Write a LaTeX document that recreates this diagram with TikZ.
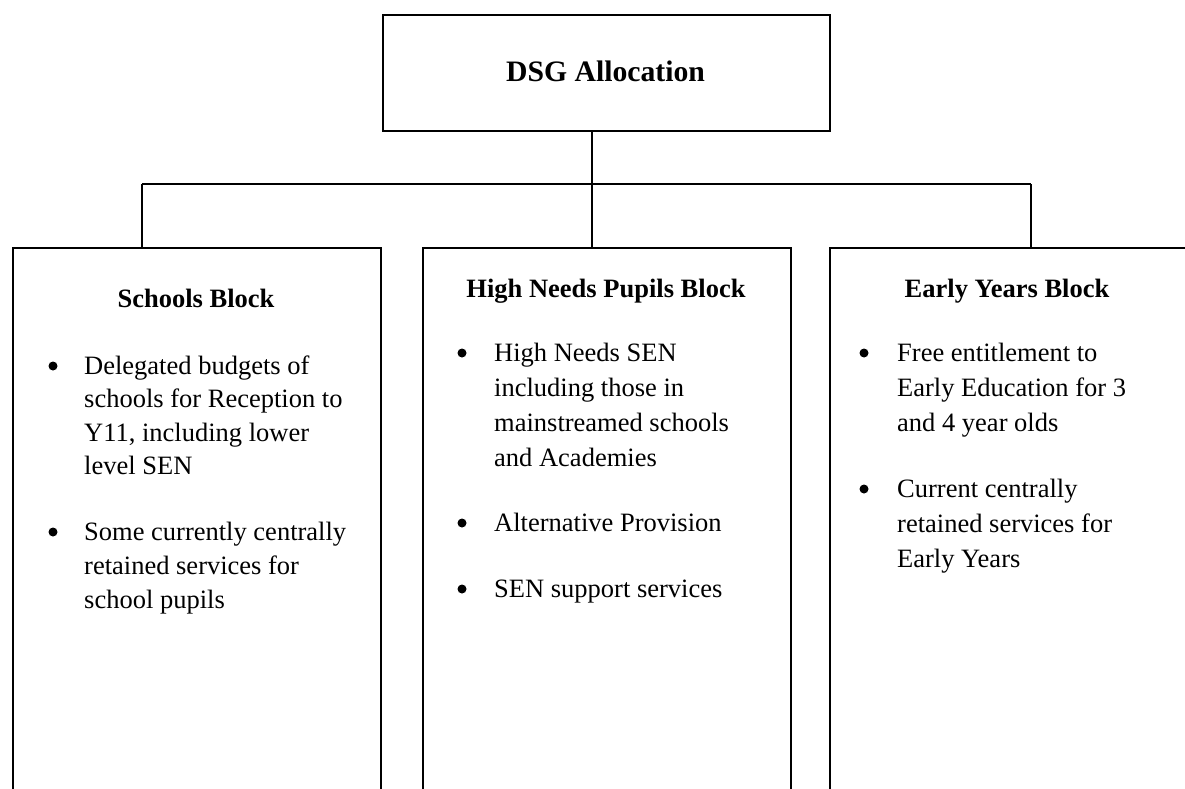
\documentclass[tikz,border=0pt]{standalone}
\usepackage{fontspec}
\setmainfont{Liberation Serif}
\begin{document}
\begin{tikzpicture}[x=1pt,y=-1pt,
  blk/.style={draw=black,line width=1.6pt,inner sep=0pt,anchor=north west},
  conn/.style={draw=black,line width=1.6pt},
  ttl/.style={anchor=base,inner sep=0pt,font=\fontsize{29.7}{34}\selectfont\bfseries},
  hdr/.style={anchor=base,inner sep=0pt,font=\fontsize{26.5}{34}\selectfont\bfseries},
  txt/.style={anchor=base west,inner sep=0pt,font=\fontsize{26.5}{34}\selectfont},
  bul/.style={circle,fill=black,inner sep=0pt,minimum size=9pt,yshift=8pt}]
\useasboundingbox (0,0) rectangle (1185,789);
\clip (0,0) rectangle (1185,789);
\fill[white] (0,0) rectangle (1185,789);
% boxes
\node[blk,minimum width=447pt,minimum height=116pt] (top) at (382,14) {};
\node[blk,minimum width=368pt,minimum height=600pt] (sb) at (12,247) {};
\node[blk,minimum width=368pt,minimum height=600pt] (hb) at (422,247) {};
\node[blk,minimum width=380pt,minimum height=600pt] (eb) at (829,247) {};
% connectors
\coordinate (jL) at (142,184);
\coordinate (jC) at (592,184);
\coordinate (jR) at (1031,184);
\draw[conn] (jC |- top.south) -- (jC |- hb.north);
\draw[conn] (jL) -- (jR);
\draw[conn] (jL) -- (jL |- sb.north);
\draw[conn] (jR) -- (jR |- eb.north);
% title
\node[ttl] (t0) at (605.5,82) {DSG Allocation};
% Schools block
\node[hdr] (sh) at (196,307) {Schools Block};
\node[bul] (sb1) at (53,374) {};
\node[txt] (s1) at (84,374) {Delegated budgets of};
\node[txt] (s2) at (84,407.5) {schools for Reception to};
\node[txt] (s3) at (84,441) {Y11, including lower};
\node[txt] (s4) at (84,474.5) {level SEN};
\node[bul] (sb2) at (53,540) {};
\node[txt] (s5) at (84,540) {Some currently centrally};
\node[txt] (s6) at (84,574) {retained services for};
\node[txt] (s7) at (84,608) {school pupils};
% High needs block
\node[hdr] (hh) at (606,297) {High Needs Pupils Block};
\node[bul] (hb1) at (462,361) {};
\node[txt] (h1) at (494,361) {High Needs SEN};
\node[txt] (h2) at (494,396) {including those in};
\node[txt] (h3) at (494,431) {mainstreamed schools};
\node[txt] (h4) at (494,466) {and Academies};
\node[bul] (hb2) at (462,531) {};
\node[txt] (h5) at (494,531) {Alternative Provision};
\node[bul] (hb3) at (462,597) {};
\node[txt] (h6) at (494,597) {SEN support services};
% Early years block
\node[hdr] (eh) at (1007,297) {Early Years Block};
\node[bul] (eb1) at (864,361) {};
\node[txt] (e1) at (897,361) {Free entitlement to};
\node[txt] (e2) at (897,396) {Early Education for 3};
\node[txt] (e3) at (897,431) {and 4 year olds};
\node[bul] (eb2) at (864,497) {};
\node[txt] (e4) at (897,497) {Current centrally};
\node[txt] (e5) at (897,532) {retained services for};
\node[txt] (e6) at (897,567) {Early Years};
\end{tikzpicture}
\end{document}
